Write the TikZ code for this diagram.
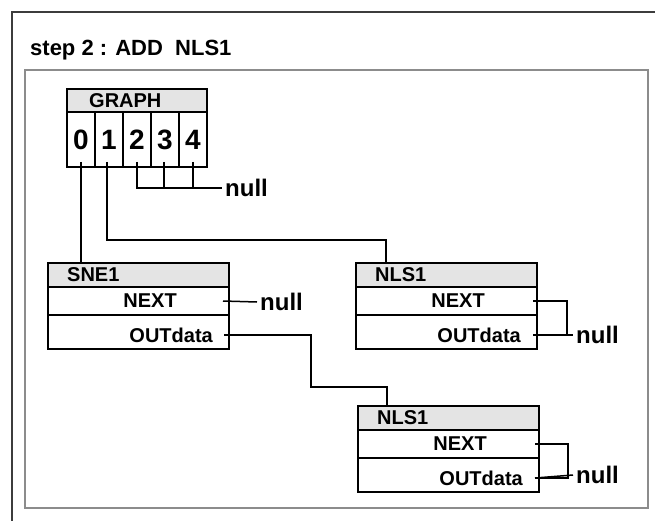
\documentclass[tikz,border=0pt]{standalone}
\usepackage{fontspec}
\setmainfont{Liberation Sans}
\usetikzlibrary{positioning}
\definecolor{Ink}{HTML}{000000}
\definecolor{FrameDark}{HTML}{3C3C3C}
\definecolor{FrameGray}{HTML}{8C8C8C}
\definecolor{HeadFill}{HTML}{E4E4E4}
\tikzset{
  wire/.style={draw=Ink, line width=1.5pt},
  cellbox/.style={draw=Ink, fill=white, line width=1.5pt, outer sep=0pt, inner sep=0pt,
    minimum width=28pt, minimum height=55pt, font=\bfseries\fontsize{28}{28}\selectfont},
  headbox/.style={draw=Ink, fill=HeadFill, line width=1.5pt, outer sep=0pt, inner sep=0pt,
    minimum width=181pt, minimum height=24pt},
  rowbox/.style={draw=Ink, fill=white, line width=1.5pt, outer sep=0pt, inner sep=0pt,
    minimum width=181pt},
  fieldtext/.style={font=\bfseries\fontsize{20}{20}\selectfont, inner sep=0pt},
  nulltext/.style={font=\bfseries\fontsize{24}{24}\selectfont, inner sep=0pt, inner xsep=3pt, anchor=west},
}

\begin{document}
\begin{tikzpicture}[x=1pt, y=-1pt]
  \useasboundingbox (0,0) rectangle (655,521);

  % window edge and panel
  \draw[FrameDark, line width=2pt] (12,521) -- (12,12) -- (655,12);
  \node[anchor=west, inner sep=0pt, font=\bfseries\fontsize{22}{22}\selectfont] (title) at (30,50)
    {step 2 : ADD\ \ NLS1};
  \node[draw=FrameGray, line width=2pt, outer sep=0pt, inner sep=0pt, anchor=north west,
    minimum width=623pt, minimum height=438pt] (panel) at (25,70) {};

  % graph array
  \node[headbox, minimum width=140pt, minimum height=23pt, anchor=north west] (graph) at (67,89) {};
  \node[fieldtext, anchor=west] (graphName) at ([xshift=22pt]graph.west) {GRAPH};
  \node[cellbox, anchor=north west] (c0) at (graph.south west) {0};
  \node[cellbox, right=0pt of c0] (c1) {1};
  \node[cellbox, right=0pt of c1] (c2) {2};
  \node[cellbox, right=0pt of c2] (c3) {3};
  \node[cellbox, right=0pt of c3] (c4) {4};
  \coordinate (p0) at ([yshift=5pt]c0.south);
  \coordinate (p1) at ([xshift=-2pt,yshift=5pt]c1.south);
  \coordinate (p2) at ([yshift=5pt]c2.south);
  \coordinate (p3) at ([xshift=-1pt,yshift=5pt]c3.south);
  \coordinate (p4) at ([yshift=5pt]c4.south);
  \node[nulltext] (graphNull) at (222,188) {null};

  % records
  \node[headbox, anchor=north west] (sne) at (48,263) {};
  \node[rowbox, minimum height=28pt, below=0pt of sne] (sneNext) {};
  \node[rowbox, minimum height=34pt, below=0pt of sneNext] (sneOut) {};
  \node[fieldtext, anchor=west] (sneName) at ([xshift=19pt]sne.west) {SNE1};
  \node[fieldtext, anchor=east] (sneNextText) at ([xshift=-52pt]sneNext.east) {NEXT};
  \node[fieldtext, anchor=east] (sneOutText) at ([xshift=-16pt,yshift=-3pt]sneOut.east) {OUTdata};
  \coordinate (sneNextP) at ([xshift=-6pt]sneNext.east);
  \coordinate (sneOutP) at ([xshift=-5pt,yshift=-3pt]sneOut.east);
  \node[nulltext] (sneNull) at (257,302) {null};

  \node[headbox, anchor=north west] (nlsA) at (356,263) {};
  \node[rowbox, minimum height=28pt, below=0pt of nlsA] (nlsANext) {};
  \node[rowbox, minimum height=34pt, below=0pt of nlsANext] (nlsAOut) {};
  \node[fieldtext, anchor=west] (nlsAName) at ([xshift=19pt]nlsA.west) {NLS1};
  \node[fieldtext, anchor=east] (nlsANextText) at ([xshift=-52pt]nlsANext.east) {NEXT};
  \node[fieldtext, anchor=east] (nlsAOutText) at ([xshift=-16pt,yshift=-3pt]nlsAOut.east) {OUTdata};
  \coordinate (nlsAIn) at ([xshift=30pt]nlsA.north west);
  \coordinate (nlsANextP) at ([xshift=-4pt]nlsANext.east);
  \coordinate (nlsAOutP) at ([xshift=-4pt,yshift=-3pt]nlsAOut.east);
  \node[nulltext] (nlsANull) at (573,335) {null};

  \node[headbox, anchor=north west] (nlsB) at (358,406) {};
  \node[rowbox, minimum height=28pt, below=0pt of nlsB] (nlsBNext) {};
  \node[rowbox, minimum height=34pt, below=0pt of nlsBNext] (nlsBOut) {};
  \node[fieldtext, anchor=west] (nlsBName) at ([xshift=19pt]nlsB.west) {NLS1};
  \node[fieldtext, anchor=east] (nlsBNextText) at ([xshift=-52pt]nlsBNext.east) {NEXT};
  \node[fieldtext, anchor=east] (nlsBOutText) at ([xshift=-16pt,yshift=-3pt]nlsBOut.east) {OUTdata};
  \coordinate (nlsBIn) at ([xshift=29pt]nlsB.north west);
  \coordinate (nlsBNextP) at ([xshift=-4pt]nlsBNext.east);
  \coordinate (nlsBOutP) at ([xshift=-4pt,yshift=-3pt]nlsBOut.east);
  \node[nulltext] (nlsBNull) at (573,475) {null};

  % links
  \draw[wire] (p0) -- (p0 |- sne.north);
  \draw[wire] (p1) -- ++(0,78) -| (nlsAIn);
  \draw[wire] (p2) |- (graphNull.west);
  \draw[wire] (p3) -- (p3 |- graphNull.west);
  \draw[wire] (p4) -- (p4 |- graphNull.west);
  \draw[wire] (sneNextP) -- (sneNull.west);
  \draw[wire] (sneOutP) -- ++(87,0) -- ++(0,52) -| (nlsBIn);
  \draw[wire] (nlsANextP) -- ++(34,0) |- (nlsAOutP);
  \draw[wire] (nlsAOutP) -- (nlsANull.west);
  \draw[wire] (nlsBNextP) -- ++(33,0) |- (nlsBOutP);
  \draw[wire] (nlsBOutP) -- (nlsBNull.west);

\end{tikzpicture}
\end{document}
